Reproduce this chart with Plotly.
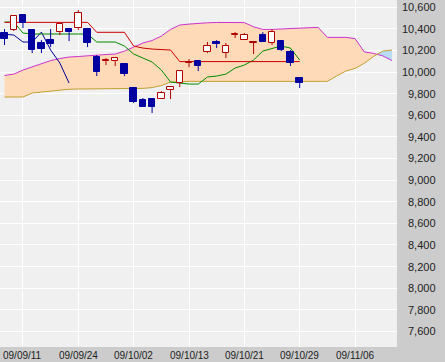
import plotly.graph_objects as go

# ---------------- data ----------------
tick_idx = [2, 8, 14, 20, 26, 32, 38]
tick_labels = ["09/09/11", "09/09/24", "09/10/02", "09/10/13",
               "09/10/21", "09/10/29", "09/11/06"]

price_ticks = list(range(7600, 10601, 200))

opens = [10361, 10389, 10528, 10389, 10269, 10296, 10370, 10398, 10407, 10398,
         10139, 10102, 10102, 10074, 9852, 9741, 9750, 9750, 9833, 9898,
         10083, 10102, 10185, 10278, 10176, 10343, 10296, 10269, 10343, 10269,
         10287, 10185, 9944]
highs = [10398, 10528, 10528, 10398, 10296, 10398, 10444, 10407, 10574, 10398,
         10157, 10130, 10130, 10083, 9861, 9759, 9750, 9824, 9870, 10019,
         10120, 10102, 10278, 10296, 10269, 10370, 10361, 10278, 10370, 10398,
         10296, 10204, 9954]
lows = [10250, 10380, 10407, 10176, 10176, 10231, 10343, 10287, 10389, 10231,
        9963, 10065, 10056, 9963, 9713, 9676, 9620, 9750, 9750, 9861,
        10046, 10009, 10176, 10222, 10130, 10315, 10296, 10167, 10278, 10250,
        10194, 10056, 9852]
closes = [10306, 10519, 10454, 10204, 10213, 10259, 10444, 10370, 10546, 10269,
          10000, 10110, 10130, 9981, 9722, 9676, 9676, 9806, 9861, 10009,
          10090, 10056, 10241, 10259, 10241, 10350, 10343, 10278, 10278, 10370,
          10204, 10083, 9898]

tenkan = [10463, 10463, 10361, 10352, 10352, 10352, 10352, 10352, 10352, 10352,
          10278, 10278, 10278, 10241, 10167, 10130, 10093, 10019, 9907, 9898,
          9889, 9889, 9954, 9963, 9981, 10037, 10065, 10111, 10194, 10218,
          10241, 10222, 10111]
kijun = [10460] * 10 + [10368] * 4 + [10241, 10222, 10213, 10208, 10204] + [10097] * 14
chikou = [10350, 10343, 10278, 10278, 10370, 10204, 10083, 9898]

span_a = [9769, 9769, 9769, 9806, 9815, 9824, 9829, 9841, 9843, 9843,
          9843, 9843, 9843, 9843, 9847, 9849, 9856, 9875, 9907, 9914,
          9914, 9914, 9914, 9914, 9914, 9914, 9914, 9914, 9914, 9914,
          9914, 9914, 9914, 9914, 9914, 9914, 9963, 10009, 10034, 10081,
          10144, 10194, 10204]
span_b = [9968, 9981, 10019, 10046, 10079, 10106, 10125, 10139, 10144, 10148,
          10157, 10162, 10167, 10194, 10231, 10269, 10292, 10333, 10395, 10435,
          10444, 10452, 10456, 10459, 10460, 10460, 10458, 10419, 10395, 10395,
          10398, 10403, 10405, 10407, 10414, 10321, 10321, 10321, 10310, 10187,
          10173, 10150, 10106]

# ---------------- styling ----------------
C_PEACH = "#FFDAB9"
C_SKY = "#B8DCF5"
C_SPAN_B = "#CC33CC"
C_SPAN_A = "#C0A030"
C_KIJUN = "#CC0000"
C_TENKAN = "#008C00"
C_CHIKOU = "#000099"
C_DOWN = "#0000A0"
C_UP = "#B00000"
FONT = "Liberation Sans, Arial, sans-serif"
W, H = 445, 362
ML, MR, MT, MB = 0, 48, 0, 15
PW, PH = W - ML - MR, H - MT - MB

fig = go.Figure()

# ---- cloud fill (split at crossings) ----
px, pa, pb = [], [], []
for i in range(len(span_a)):
    if i > 0:
        d0 = span_b[i - 1] - span_a[i - 1]
        d1 = span_b[i] - span_a[i]
        if d0 * d1 < 0:
            t = d0 / (d0 - d1)
            yc = span_a[i - 1] + t * (span_a[i] - span_a[i - 1])
            px.append(i - 1 + t); pa.append(yc); pb.append(yc)
    px.append(i); pa.append(span_a[i]); pb.append(span_b[i])

runs = []
cur = None
for x, a, b in zip(px, pa, pb):
    s = 1 if b > a else (-1 if b < a else 0)
    if cur is None:
        cur = {"s": s if s != 0 else 1, "x": [x], "a": [a], "b": [b]}
        continue
    if s == 0:
        cur["x"].append(x); cur["a"].append(a); cur["b"].append(b)
        runs.append(cur)
        cur = {"s": None, "x": [x], "a": [a], "b": [b]}
        continue
    if cur["s"] is None:
        cur["s"] = s
    cur["x"].append(x); cur["a"].append(a); cur["b"].append(b)
runs.append(cur)

for r in runs:
    if len(r["x"]) < 2:
        continue
    color = C_PEACH if r["s"] == 1 else C_SKY
    fig.add_trace(go.Scatter(
        x=r["x"] + r["x"][::-1], y=r["b"] + r["a"][::-1],
        fill="toself", fillcolor=color, line=dict(width=0),
        mode="lines", hoverinfo="skip", showlegend=False))

n_span = list(range(len(span_a)))
fig.add_trace(go.Scatter(x=n_span, y=span_b, mode="lines",
                         line=dict(color=C_SPAN_B, width=1), showlegend=False))
fig.add_trace(go.Scatter(x=n_span, y=span_a, mode="lines",
                         line=dict(color=C_SPAN_A, width=1), showlegend=False))
fig.add_trace(go.Scatter(x=list(range(len(chikou))), y=chikou, mode="lines",
                         line=dict(color=C_CHIKOU, width=1), showlegend=False))
fig.add_trace(go.Scatter(x=list(range(len(tenkan))), y=tenkan, mode="lines",
                         line=dict(color=C_TENKAN, width=1), showlegend=False))
fig.add_trace(go.Scatter(x=list(range(len(kijun))), y=kijun, mode="lines",
                         line=dict(color=C_KIJUN, width=1), showlegend=False))

# ---- candles on overlay axes (drawn above the cloud) ----
idx = list(range(len(opens)))
for up in (True, False):
    sel = [i for i in idx if (closes[i] >= opens[i]) == up]
    col = C_UP if up else C_DOWN
    wx, wy = [], []
    for i in sel:
        top = max(opens[i], closes[i]); bot = min(opens[i], closes[i])
        wx += [i, i, None, i, i, None]
        wy += [highs[i], top, None, bot, lows[i], None]
    fig.add_trace(go.Scatter(x=wx, y=wy, mode="lines", xaxis="x2", yaxis="y2",
                             line=dict(color=col, width=1), showlegend=False,
                             hoverinfo="skip"))
    fig.add_trace(go.Bar(
        x=sel,
        base=[min(opens[i], closes[i]) for i in sel],
        y=[abs(closes[i] - opens[i]) for i in sel],
        width=0.7, xaxis="x2", yaxis="y2",
        marker=dict(color="white" if up else col, line=dict(color=col, width=1)),
        showlegend=False))

XR = [-0.49, 42.55]
YR = [7455, 10667]

fig.update_layout(
    width=W, height=H,
    margin=dict(l=ML, r=MR, t=MT, b=MB, pad=0),
    paper_bgcolor="#CCCCCC", plot_bgcolor="#F0F0F0",
    showlegend=False, bargap=0,
    font=dict(family=FONT, size=10, color="#222222"),
    xaxis=dict(range=XR, tickmode="array", tickvals=tick_idx,
               showticklabels=False,
               showgrid=True, gridcolor="white", gridwidth=1, zeroline=False,
               showline=False, ticks=""),
    yaxis=dict(range=YR, tickmode="array", tickvals=price_ticks,
               showticklabels=False, showgrid=True, gridcolor="white", gridwidth=1,
               zeroline=False, showline=False, ticks="", side="right"),
    xaxis2=dict(range=XR, overlaying="x", visible=False),
    yaxis2=dict(range=YR, overlaying="y", visible=False),
)

# y tick labels, right-aligned in the grey strip
for v in price_ticks:
    fig.add_annotation(x=(438 - ML) / PW, xref="paper", y=v, yref="y",
                       text=f"{v:,}", showarrow=False, xanchor="right",
                       yanchor="middle", font=dict(size=11, color="#222222"))

# x tick labels under the grid lines, inside the bottom strip
for xi, lab in zip(tick_idx, tick_labels):
    fig.add_annotation(x=xi, xref="x", y=-(355 - PH) / PH, yref="paper",
                       text=lab, showarrow=False, xanchor="center",
                       yanchor="middle", font=dict(size=10, color="#222222"))

fig.write_html("out.html",
               config={"displayModeBar": False},
               post_script="document.body.style.margin='0';"
                           "document.body.style.padding='0';")
